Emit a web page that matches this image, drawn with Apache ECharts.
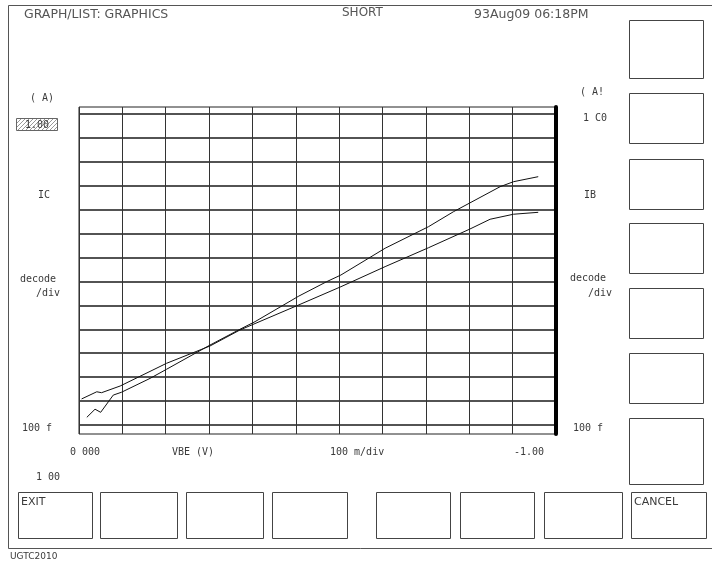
<!DOCTYPE html>
<html><head><meta charset="utf-8">
<script src="https://cdn.jsdelivr.net/npm/echarts@6/dist/echarts.min.js"></script>
<style>html,body{margin:0;padding:0;background:#fff}#c{width:712px;height:564px}</style>
</head><body><div id="c"></div>
<script>
// VBE sweep points (mV) and currents (A)
const vbeIC = [-18, -37, -50, -79, -98, -164, -202, -302, -371, -406, -507, -571, -604, -706, -806, -864, -900, -971, -1002, -1059];
const ic    = [2.09e-13, 4.57e-13, 3.39e-13, 1.78e-12, 2.34e-12, 8.91e-12, 2.14e-11, 2.19e-10, 1.00e-9, 2.09e-9, 2.45e-8, 9.77e-8, 1.86e-7, 2.45e-6, 1.95e-5, 8.32e-5, 1.86e-4, 9.12e-4, 1.48e-3, 2.40e-3];
const vbeIB = [-6, -41, -52, -95, -202, -302, -371, -507, -604, -706, -806, -900, -948, -1002, -1059];
const ib    = [1.23e-12, 2.45e-12, 2.24e-12, 4.27e-12, 3.80e-11, 2.00e-10, 9.33e-10, 1.05e-8, 6.03e-8, 4.17e-7, 2.57e-6, 1.51e-5, 3.98e-5, 6.46e-5, 7.76e-5];
const xRange = [-1100, 0];      // 11 divisions of 100 mV
const yRange = [1e-13, 1];      // 100 f .. 1.00, 13 decades
const decadeRange = [-13, 0];   // decade grid (log10 of yRange)
const headerTexts = ['GRAPH/LIST: GRAPHICS', 'SHORT', '93Aug09 06:18PM'];
const leftLabels = ['( A)', '1.00', 'IC', 'decode', '/div', '100 f'];
const rightLabels = ['( A!', '1 C0', 'IB', 'decode', '/div', '100 f'];
const bottomLabels = ['0 000', 'VBE (V)', '100 m/div', '-1.00', '1 00'];
const softKeys = ['EXIT', '', '', '', '', '', '', 'CANCEL'];

const chart = echarts.init(document.getElementById('c'), null, {renderer: 'canvas'});

// hatch pattern for the highlighted "1.00" field
const pc = document.createElement('canvas');
pc.width = 4; pc.height = 4;
const pctx = pc.getContext('2d');
pctx.fillStyle = '#fff'; pctx.fillRect(0,0,4,4);
pctx.strokeStyle = '#999'; pctx.lineWidth = 1;
pctx.beginPath(); pctx.moveTo(0,4); pctx.lineTo(4,0); pctx.stroke();

const ink = '#3a3a3a';
const mono = '"DejaVu Sans Mono", monospace';
const sans = '"DejaVu Sans", sans-serif';
function txt(x, y, s, opt) {
  return Object.assign({type: 'text', x: x, y: y, silent: true,
    style: Object.assign({text: s, fill: ink, font: '10px ' + mono, textVerticalAlign: 'middle'}, opt || {})});
}
function box(x, y, w, h) {
  return {type: 'rect', silent: true, shape: {x: x, y: y, width: w, height: h},
    style: {fill: 'none', stroke: '#444', lineWidth: 1}};
}

const graphic = [
  // outer screen frame
  {type: 'rect', silent: true, shape: {x: 8.5, y: 5.5, width: 720, height: 543}, style: {fill: 'none', stroke: '#555', lineWidth: 1}},
  txt(24, 15, headerTexts[0], {font: '12.5px ' + sans, fill: '#555'}),
  txt(342, 13, headerTexts[1], {font: '12px ' + sans, fill: '#555'}),
  txt(474, 15, headerTexts[2], {font: '12.5px ' + sans, fill: '#555'}),
  // left annotations
  txt(30, 98, leftLabels[0]),
  {type: 'rect', silent: true, shape: {x: 16.5, y: 118.5, width: 41, height: 12}, style: {fill: {image: pc, repeat: 'repeat'}, stroke: '#666', lineWidth: 1}},
  txt(37, 125, leftLabels[1], {textAlign: 'center'}),
  txt(38, 195, leftLabels[2]),
  txt(20, 279, leftLabels[3]),
  txt(36, 293, leftLabels[4]),
  txt(22, 428, leftLabels[5]),
  // right annotations
  txt(580, 92, rightLabels[0]),
  txt(583, 118, rightLabels[1]),
  txt(584, 195, rightLabels[2]),
  txt(570, 278, rightLabels[3]),
  txt(588, 293, rightLabels[4]),
  txt(573, 428, rightLabels[5]),
  // bottom annotations
  txt(70, 452, bottomLabels[0]),
  txt(172, 452, bottomLabels[1]),
  txt(330, 452, bottomLabels[2]),
  txt(514, 452, bottomLabels[3]),
  txt(36, 477, bottomLabels[4]),
  txt(10, 557, 'UGTC2010', {font: '9px ' + sans})
];
// right column soft keys
[[20, 58], [93, 50], [159, 50], [223, 50], [288, 50], [353, 50], [418, 66]].forEach(function (b) {
  graphic.push(box(629.5, b[0] + 0.5, 74, b[1]));
});
// bottom soft keys
const keyX = [[18, 74], [100, 77], [186, 77], [272, 75], [376, 74], [460, 74], [544, 78], [631, 75]];
keyX.forEach(function (k, i) {
  graphic.push(box(k[0] + 0.5, 492.5, k[1], 46));
  if (softKeys[i]) graphic.push(txt(k[0] + 3, 502, softKeys[i], {font: '11px ' + sans}));
});

const hidden = {axisLine: {show: false}, axisTick: {show: false}, axisLabel: {show: false}, splitLine: {show: false}};
const option = {
  animation: false,
  backgroundColor: '#fff',
  grid: [
    {left: 79, right: 156, top: 114, bottom: 139},
    {left: 79, right: 156, top: 107, bottom: 130, show: true, borderColor: '#222', borderWidth: 1, backgroundColor: 'transparent'}
  ],
  xAxis: [
    Object.assign({type: 'value', gridIndex: 0, min: xRange[0], max: xRange[1], interval: 100, inverse: true}, hidden),
    Object.assign({type: 'value', gridIndex: 1, min: xRange[0], max: xRange[1], interval: 100, inverse: true}, hidden,
      {splitLine: {show: true, lineStyle: {color: '#333', width: 1}}})
  ],
  yAxis: [
    Object.assign({type: 'log', gridIndex: 0, min: yRange[0], max: yRange[1], logBase: 10}, hidden),
    Object.assign({type: 'log', gridIndex: 0, min: yRange[0], max: yRange[1], logBase: 10, position: 'right'}, hidden),
    Object.assign({type: 'value', gridIndex: 0, min: decadeRange[0], max: decadeRange[1], interval: 1}, hidden,
      {splitLine: {show: true, lineStyle: {color: '#1a1a1a', width: 1.5}}}),
    Object.assign({type: 'value', gridIndex: 1, min: 0, max: 1, position: 'right'}, hidden,
      {axisLine: {show: true, onZero: false, lineStyle: {color: '#000', width: 4}}})
  ],
  series: [
    {name: 'IC', type: 'line', xAxisIndex: 0, yAxisIndex: 0, showSymbol: false, symbol: 'none',
      lineStyle: {color: '#111', width: 1}, data: vbeIC.map(function (v, i) { return [v, ic[i]]; })},
    {name: 'IB', type: 'line', xAxisIndex: 0, yAxisIndex: 1, showSymbol: false, symbol: 'none',
      lineStyle: {color: '#111', width: 1}, data: vbeIB.map(function (v, i) { return [v, ib[i]]; })}
  ],
  graphic: graphic
};
chart.setOption(option);
</script></body></html>
